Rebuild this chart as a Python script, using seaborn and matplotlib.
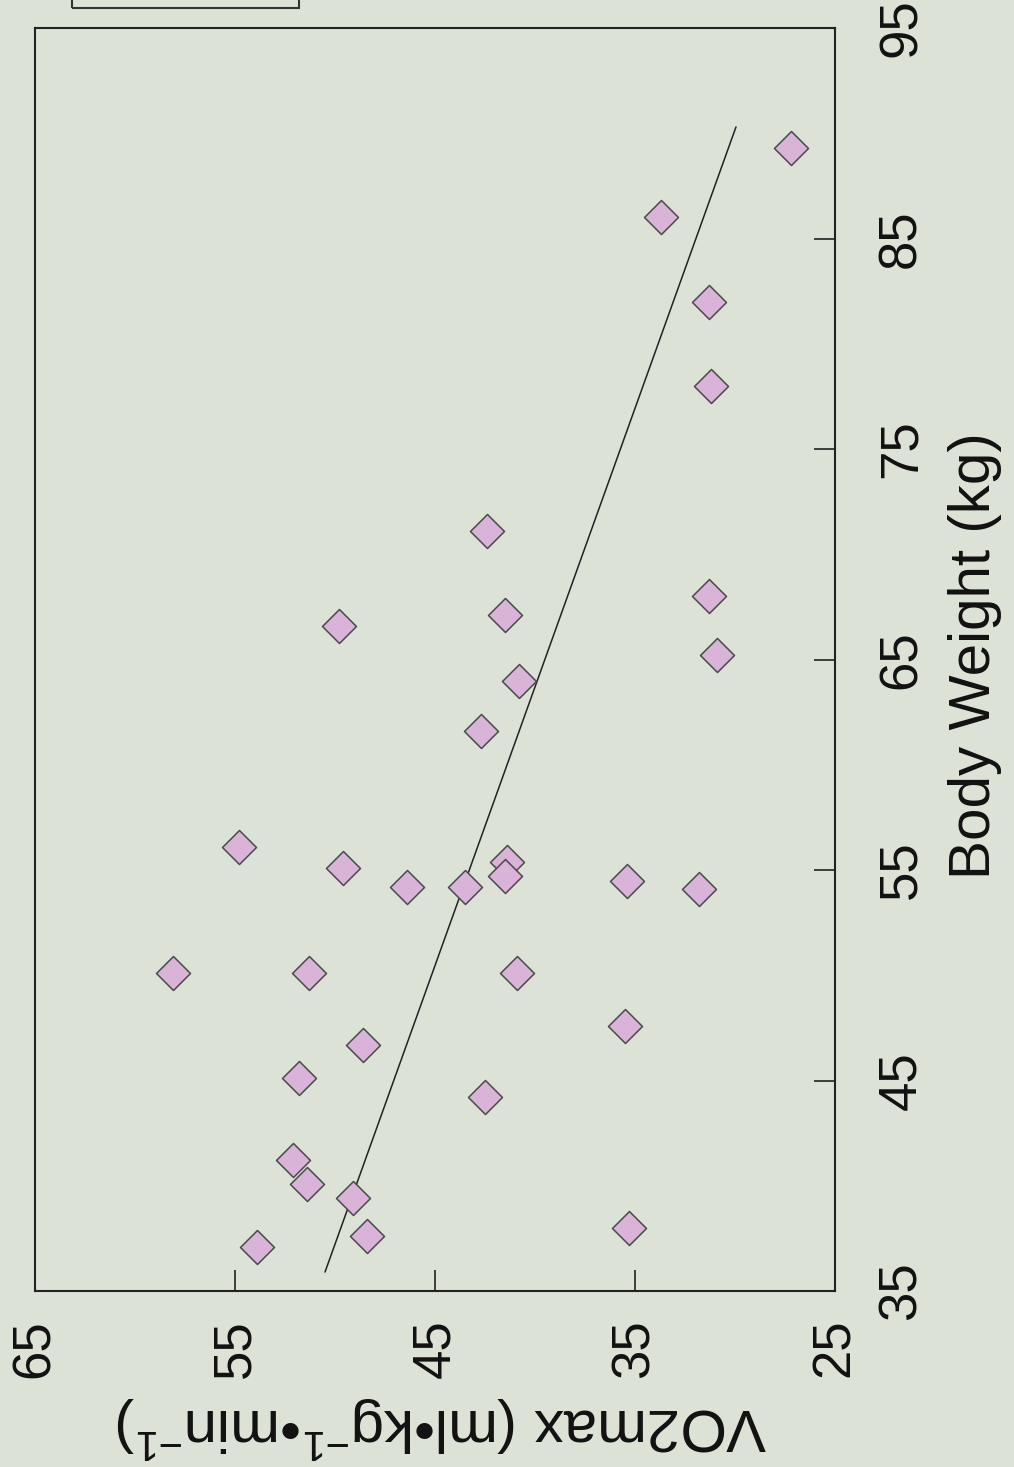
import matplotlib
matplotlib.use("Agg")
import matplotlib.pyplot as plt
from matplotlib.patches import Rectangle
import seaborn as sns
import pandas as pd

# ------------------------------------------------------
# data read off the (rotated) scan
# ------------------------------------------------------
body_weight = [89.3, 86.0, 82.0, 78.0, 71.1, 68.0, 67.1, 66.6, 65.2, 64.0,
               61.6, 56.1, 55.1, 55.4, 54.7, 54.5, 54.1, 54.2, 54.2, 50.1,
               50.1, 50.1, 47.6, 46.7, 45.1, 44.2, 41.2, 40.1, 39.4, 38.0,
               37.6, 37.1]
vo2max = [27.2, 33.7, 31.3, 31.2, 42.4, 31.3, 41.5, 49.8, 30.9, 40.8,
          42.7, 54.8, 49.6, 41.4, 41.5, 35.4, 31.8, 46.4, 43.5, 58.1,
          51.3, 40.9, 35.5, 48.6, 51.8, 42.5, 52.1, 51.4, 49.1, 35.3,
          48.4, 53.9]

# regression line end points
fit_weight = [35.9, 90.3]
fit_vo2 = [50.5, 29.95]

vo2_ticks = [65, 55, 45, 35, 25]
weight_ticks = [35, 45, 55, 65, 75, 85, 95]

df = pd.DataFrame({"weight": body_weight, "vo2": vo2max})
fit = pd.DataFrame({"weight": fit_weight, "vo2": fit_vo2})

# ------------------------------------------------------
# style
# ------------------------------------------------------
sns.set_theme(style="ticks")
plt.rcParams["font.family"] = ["Liberation Sans", "DejaVu Sans"]
plt.rcParams["mathtext.fontset"] = "custom"
plt.rcParams["mathtext.rm"] = "Liberation Sans"
plt.rcParams["mathtext.it"] = "Liberation Sans"
plt.rcParams["mathtext.default"] = "regular"

paper = "#dde2d7"
W, H = 1014, 1467

fig = plt.figure(figsize=(W / 100, H / 100), dpi=100, facecolor=paper)
# page is turned a quarter turn: VO2max runs across, body weight runs up
ax = fig.add_axes([35 / W, (H - 1291) / H, 800 / W, 1263 / H])
ax.set_facecolor(paper)

sns.lineplot(data=fit, x="vo2", y="weight", sort=False, color="#222222",
             linewidth=1.1, ax=ax)
sns.scatterplot(data=df, x="vo2", y="weight", marker="D", s=300,
                color="#dab3d8", edgecolor="#4a4a4a", linewidth=1.1,
                zorder=3, ax=ax)

ax.set_xlim(65, 25)
ax.set_ylim(35, 95)
ax.set_xticks(vo2_ticks)
ax.set_yticks(weight_ticks)
ax.set_xticklabels([str(t) for t in vo2_ticks], rotation=90)
ax.set_yticklabels([str(t) for t in weight_ticks], rotation=90, va="center")
ax.yaxis.tick_right()
ax.set_xlabel("")
ax.set_ylabel("")

ax.tick_params(axis="both", direction="in", length=15, width=1.2,
               color="#222222", labelsize=38, labelcolor="#111111")
ax.tick_params(axis="x", pad=20)
ax.tick_params(axis="y", pad=30)

for sp in ax.spines.values():
    sp.set_visible(True)
    sp.set_linewidth(1.5)
    sp.set_color("#222222")

# axis titles, placed as in the scan
fig.text(975 / W, 1 - 656 / H, "Body Weight (kg)", rotation=90,
         ha="center", va="center", fontsize=42, color="#111111")
fig.text(442 / W, 1 - 1428 / H,
         "VO2max (ml\u2022kg$^{-1}$\u2022min$^{-1}$)", rotation=180,
         ha="center", va="center", fontsize=43, color="#111111")

# edge of the legend box cut off at the top of the page
fig.patches.append(Rectangle((72 / W, 1 - 7.5 / H), 227 / W, 20 / H,
                             transform=fig.transFigure, fill=False,
                             edgecolor="#333333", linewidth=1.5,
                             clip_on=False))

fig.savefig("out.png", dpi=100, facecolor=paper)
plt.close(fig)
